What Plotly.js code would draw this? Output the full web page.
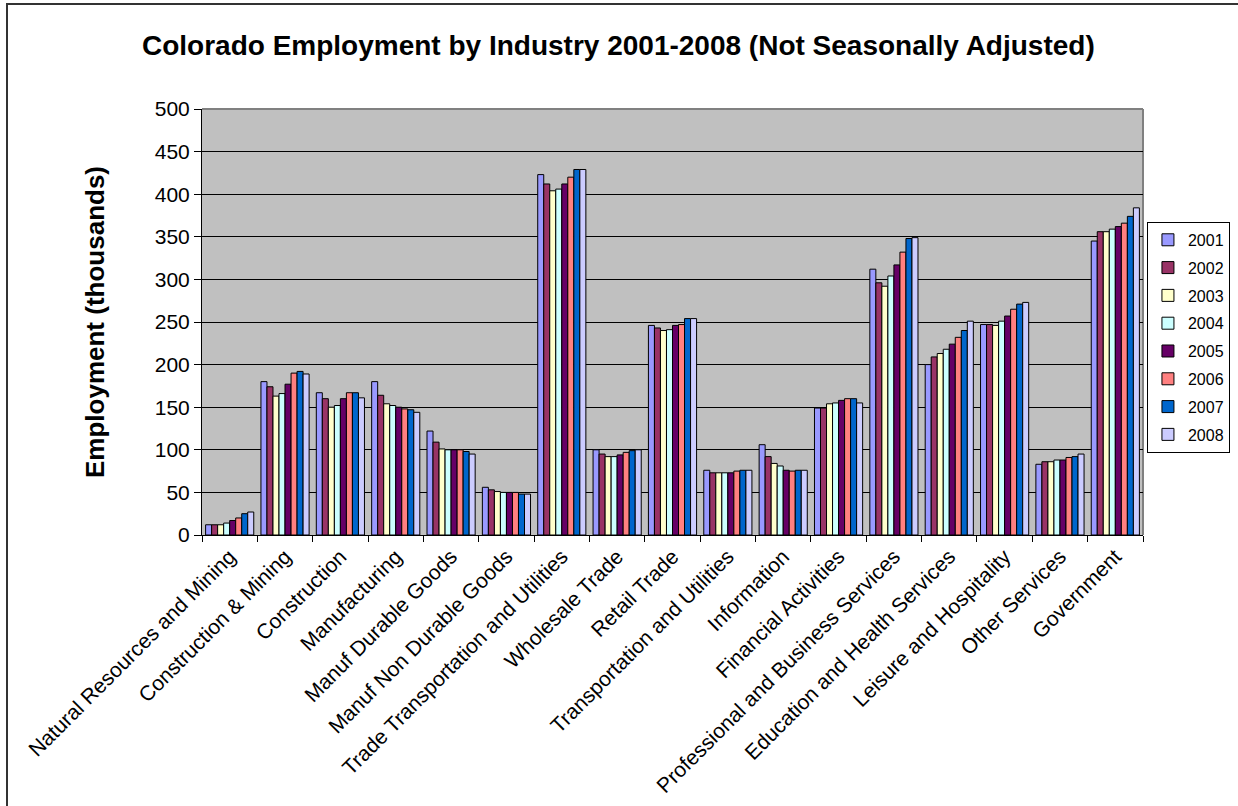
<!DOCTYPE html>
<html>
<head>
<meta charset="utf-8">
<script src="https://cdn.plot.ly/plotly-3.0.1.min.js"></script>
<style>
  html, body { margin: 0; padding: 0; background: #fff; }
  #wrap { position: relative; width: 1238px; height: 806px; overflow: hidden; }
  #chart { position: absolute; left: 0; top: 0; width: 1238px; height: 806px; }
  #frame { position: absolute; left: 6px; top: 3px; width: 1300px; height: 900px;
           border-top: 2px solid #333; border-left: 2px solid #333; pointer-events: none; }
</style>
</head>
<body>
<div id="wrap">
  <div id="chart"></div>
  <div id="frame"></div>
</div>
<script>
const categories = [
  "Natural Resources and Mining", "Construction & Mining", "Construction", "Manufacturing",
  "Manuf Durable Goods", "Manuf Non Durable Goods", "Trade Transportation and Utilities",
  "Wholesale Trade", "Retail Trade", "Transportation and Utilities", "Information",
  "Financial Activities", "Professional and Business Services", "Education and Health Services",
  "Leisure and Hospitality", "Other Services", "Government"
];

const years = ["2001", "2002", "2003", "2004", "2005", "2006", "2007", "2008"];

const v2001 = [12, 180, 167, 180, 122, 56, 423, 100, 246, 76, 106, 149, 312, 200, 247, 83, 345];
const v2002 = [12, 174, 160, 164, 109, 53, 412, 95, 243, 73, 92, 149, 296, 209, 247, 86, 356];
const v2003 = [12, 163, 150, 154, 101, 51, 404, 92, 240, 73, 84, 154, 292, 213, 246, 86, 356];
const v2004 = [14, 166, 152, 152, 100, 50, 406, 92, 241, 73, 81, 155, 304, 218, 251, 88, 359];
const v2005 = [17, 177, 160, 150, 100, 50, 412, 94, 246, 73, 76, 158, 317, 224, 257, 88, 362];
const v2006 = [20, 190, 167, 148, 100, 50, 420, 97, 247, 75, 75, 160, 332, 232, 265, 91, 366];
const v2007 = [25, 192, 167, 147, 98, 48, 429, 99, 254, 76, 76, 160, 348, 240, 271, 92, 374];
const v2008 = [27, 189, 161, 144, 95, 48, 429, 100, 254, 76, 76, 155, 349, 251, 273, 95, 384];

const seriesValues = [v2001, v2002, v2003, v2004, v2005, v2006, v2007, v2008];
const colors = ["#9999FF", "#993366", "#FFFFCC", "#CCFFFF", "#660066", "#FF8080", "#0066CC", "#CCCCFF"];

const FONT = "Arial, 'Liberation Sans', Helvetica, sans-serif";

const traces = years.map((y, i) => ({
  type: "bar",
  name: y,
  legendgroup: "g" + y,
  x: categories,
  y: seriesValues[i],
  marker: { color: colors[i], line: { color: "#000000", width: 1 } },
  hoverinfo: "x+y+name"
}));

const layout = {
  width: 1238,
  height: 806,
  margin: { l: 202, r: 95, t: 109, b: 271, pad: 0, autoexpand: false },
  paper_bgcolor: "#ffffff",
  plot_bgcolor: "#C0C0C0",
  barmode: "group",
  bargap: 0.13,
  bargroupgap: 0,
  font: { family: FONT, color: "#000000" },
  title: {
    text: "<b>Colorado Employment by Industry 2001-2008 (Not Seasonally Adjusted)</b>",
    font: { family: FONT, size: 28, color: "#000000" },
    x: 0.4995, xref: "container", xanchor: "center",
    y: 0.944, yref: "container", yanchor: "middle"
  },
  xaxis: {
    type: "category",
    tickson: "boundaries",
    ticks: "outside",
    ticklen: 6,
    tickcolor: "#000000",
    tickangle: -45,
    tickfont: { family: FONT, size: 21, color: "#000000" },
    showline: true,
    linecolor: "#000000",
    linewidth: 1,
    showgrid: false,
    automargin: false
  },
  yaxis: {
    range: [0, 500],
    dtick: 50,
    tick0: 0,
    ticks: "outside",
    ticklen: 7,
    tickcolor: "#000000",
    tickfont: { family: FONT, size: 21, color: "#000000" },
    showline: true,
    linecolor: "#000000",
    linewidth: 1,
    showgrid: true,
    gridcolor: "#000000",
    gridwidth: 1,
    zeroline: false,
    automargin: false,
    title: {
      text: "<b>Employment (thousands)</b>",
      font: { family: FONT, size: 26, color: "#000000" },
      standoff: 42
    }
  },
  legend: {
    x: 1.0042, y: 0.735, xanchor: "left", yanchor: "top",
    bgcolor: "#ffffff",
    bordercolor: "#000000",
    borderwidth: 1,
    font: { family: FONT, size: 16, color: "#000000" },
    traceorder: "grouped",
    tracegroupgap: 4
  },
  shapes: [
    { type: "line", xref: "paper", yref: "paper", x0: 0, x1: 1, y0: 1, y1: 1,
      line: { color: "#808080", width: 2 }, layer: "below" },
    { type: "line", xref: "paper", yref: "paper", x0: 1, x1: 1, y0: 0, y1: 1,
      line: { color: "#808080", width: 2 }, layer: "below" }
  ],
  showlegend: true
};

Plotly.newPlot("chart", traces, layout, { displayModeBar: false, staticPlot: true });
</script>
</body>
</html>
